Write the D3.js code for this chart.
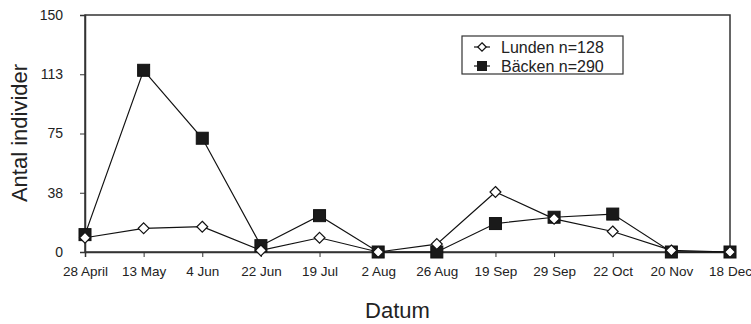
<!DOCTYPE html>
<html>
<head>
<meta charset="utf-8">
<script src="https://cdnjs.cloudflare.com/ajax/libs/d3/7.8.5/d3.min.js"></script>
<style>
  body { margin: 0; background: #fff; }
  text { font-family: "Liberation Sans", Arial, sans-serif; fill: #222; }
</style>
</head>
<body>
<div id="chart"></div>
<script>
// data
var dates = ["28 April", "13 May", "4 Jun", "22 Jun", "19 Jul", "2 Aug",
             "26 Aug", "19 Sep", "29 Sep", "22 Oct", "20 Nov", "18 Dec"];
var lunden = [9, 15, 16, 1, 9, 0, 5, 38, 21, 13, 1, 0];
var backen = [11, 115, 72, 4, 23, 0, 0, 18, 22, 24, 0, 0];
var yTicks = [0, 37.5, 75, 112.5, 150];

var w = 751, h = 324;
var plotLeft = 85, plotRight = 730, plotTop = 15, plotBottom = 252;

var svg = d3.select("#chart").append("svg")
    .attr("width", w)
    .attr("height", h);

var x = d3.scalePoint().domain(dates).range([plotLeft, plotRight]).padding(0);
var y = d3.scaleLinear().domain([0, 150]).range([plotBottom, plotTop]);

// frame
svg.append("rect")
  .attr("x", plotLeft).attr("y", plotTop)
  .attr("width", plotRight - plotLeft).attr("height", plotBottom - plotTop)
  .attr("fill", "none").attr("stroke", "#333").attr("stroke-width", 1.5);

// x axis
var xAxis = svg.append("g")
  .attr("transform", "translate(0," + plotBottom + ")")
  .call(d3.axisBottom(x).tickSize(5).tickPadding(9));
xAxis.select(".domain").attr("stroke", "#333").attr("stroke-width", 1.5);
xAxis.selectAll(".tick line").attr("stroke", "#333");
xAxis.selectAll("text").attr("font-size", "13.5px").attr("fill", "#222")
  .style("font-family", "Liberation Sans, Arial, sans-serif");

// y axis
var yAxis = svg.append("g")
  .attr("transform", "translate(" + plotLeft + ",0)")
  .call(d3.axisLeft(y).tickValues(yTicks).tickSize(5).tickPadding(17)
    .tickFormat(function(d) { return Math.round(d); }));
yAxis.select(".domain").attr("stroke", "#333").attr("stroke-width", 1.5);
yAxis.selectAll(".tick line").attr("stroke", "#333");
yAxis.selectAll("text").attr("font-size", "14px").attr("fill", "#222")
  .style("font-family", "Liberation Sans, Arial, sans-serif");

// titles
svg.append("text")
  .attr("x", (plotLeft + plotRight) / 2 - 10)
  .attr("y", 318)
  .attr("text-anchor", "middle")
  .attr("font-size", "22px")
  .text("Datum");

svg.append("text")
  .attr("transform", "translate(27,133) rotate(-90)")
  .attr("text-anchor", "middle")
  .attr("font-size", "22px")
  .text("Antal individer");

var line = d3.line()
  .x(function(d, i) { return x(dates[i]); })
  .y(function(d) { return y(d); });

svg.append("path").datum(backen)
  .attr("d", line).attr("fill", "none").attr("stroke", "#111").attr("stroke-width", 1.2);
svg.append("path").datum(lunden)
  .attr("d", line).attr("fill", "none").attr("stroke", "#111").attr("stroke-width", 1.2);

var sq = 12;
svg.selectAll("rect.backen")
  .data(backen)
  .enter()
  .append("rect")
  .attr("class", "backen")
  .attr("x", function(d, i) { return x(dates[i]) - sq / 2; })
  .attr("y", function(d) { return y(d) - sq / 2; })
  .attr("width", sq).attr("height", sq)
  .attr("fill", "#1a1a1a").attr("stroke", "#111");

var diamond = d3.symbol().type(d3.symbolDiamond2).size(75);
svg.selectAll("path.lunden")
  .data(lunden)
  .enter()
  .append("path")
  .attr("class", "lunden")
  .attr("d", diamond)
  .attr("transform", function(d, i) {
    return "translate(" + x(dates[i]) + "," + y(d) + ")";
  })
  .attr("fill", "#fff").attr("stroke", "#111").attr("stroke-width", 1.2);

// legend
var lg = svg.append("g").attr("transform", "translate(462,36)");
lg.append("rect")
  .attr("width", 161).attr("height", 38)
  .attr("fill", "#fff").attr("stroke", "#333").attr("stroke-width", 1.2);

var legendRows = [
  { name: "Lunden n=128", type: "diamond" },
  { name: "Bäcken n=290", type: "square" }
];
legendRows.forEach(function(r, i) {
  var cy = 11 + i * 19;
  lg.append("line")
    .attr("x1", 12).attr("x2", 28).attr("y1", cy).attr("y2", cy)
    .attr("stroke", "#111").attr("stroke-width", 1.2);
  if (r.type == "diamond") {
    lg.append("path").attr("d", d3.symbol().type(d3.symbolDiamond2).size(45))
      .attr("transform", "translate(20," + cy + ")")
      .attr("fill", "#fff").attr("stroke", "#111").attr("stroke-width", 1.2);
  } else {
    lg.append("rect").attr("x", 15).attr("y", cy - 5).attr("width", 10).attr("height", 10)
      .attr("fill", "#1a1a1a");
  }
  lg.append("text")
    .attr("x", 39).attr("y", cy + 5.5)
    .attr("font-size", "16px")
    .text(r.name);
});
</script>
</body>
</html>
